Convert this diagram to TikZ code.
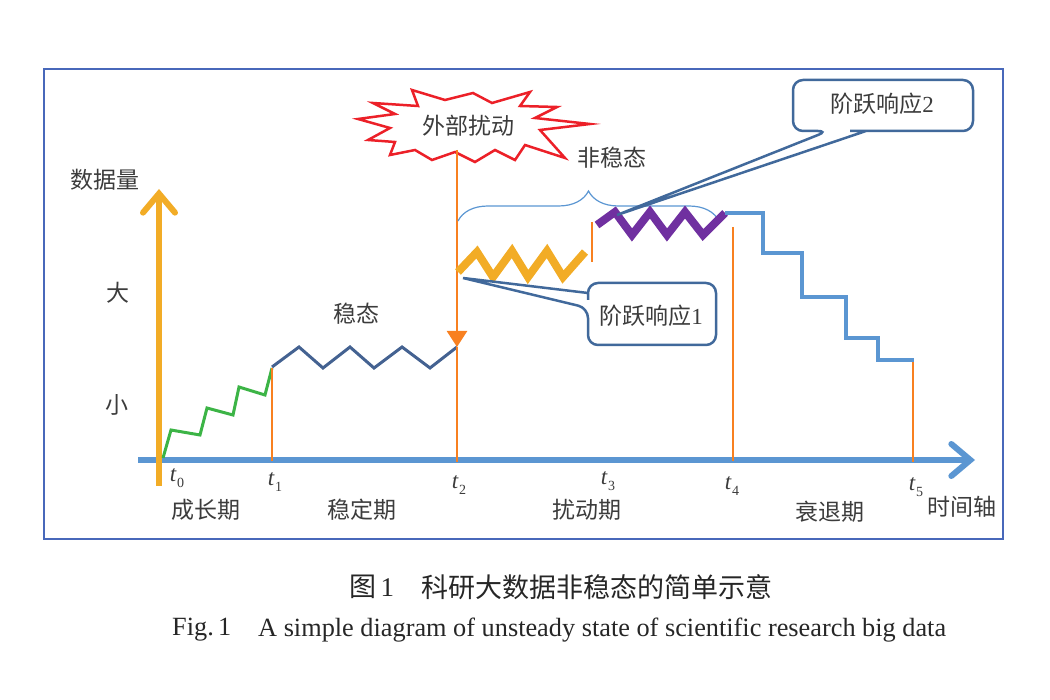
\documentclass[tikz,border=0pt]{standalone}
\usepackage{fontspec}
\setmainfont{Liberation Serif}
\newfontfamily\cjk{Noto Sans CJK SC}
\usetikzlibrary{arrows.meta,decorations.pathreplacing}
\definecolor{frameblue}{RGB}{72,104,186}
\definecolor{axisblue}{RGB}{91,150,210}
\definecolor{amber}{RGB}{242,172,38}
\definecolor{orangeline}{RGB}{248,128,32}
\definecolor{greenline}{RGB}{60,180,70}
\definecolor{darkblueline}{RGB}{68,98,145}
\definecolor{purpleline}{RGB}{112,48,160}
\definecolor{calloutblue}{RGB}{65,105,155}
\definecolor{boomred}{RGB}{236,32,40}
\definecolor{txtgray}{RGB}{60,60,60}
\newcommand\tsub[1]{\textit{t}\kern0.5pt\raisebox{-0.5ex}{\fontsize{14}{14}\selectfont #1}}
\tikzset{
  lbl/.style={font=\cjk\fontsize{23}{26}\selectfont, text=txtgray, inner sep=0pt},
  tlbl/.style={font=\fontsize{23}{25}\selectfont, text=txtgray, inner sep=0pt},
  captext/.style={font=\fontsize{27}{30}\selectfont, text=black!85, inner sep=0pt},
  ecaptext/.style={font=\fontsize{26.3}{29}\selectfont, text=black!85, inner sep=0pt},
  vline/.style={draw=orangeline, line width=2.5pt},
  zig/.style={line width=3pt, line join=miter},
  thickzig/.style={line width=8pt, line join=miter},
  callout/.style={draw=calloutblue, line width=2.5pt, fill=white},
}
\begin{document}
\begin{tikzpicture}[x=1pt,y=-1pt]
\useasboundingbox (0,0) rectangle (1050,700);
% frame
\draw[frameblue, line width=1.5pt] (44,69) rectangle (1003,539);

% axes
\coordinate (xs) at (138,460);
\coordinate (xe) at (975,460);
\coordinate (ys) at (159,486);
\coordinate (ye) at (159,189);
\draw[axisblue, line width=6pt, -{Straight Barb[length=19pt,width=32pt,line cap=round]}] (xs) -- (xe);
\draw[amber, line width=6pt, -{Straight Barb[length=19pt,width=32pt,line cap=round]}] (ys) -- (ye);

% axis labels
\node[lbl] (ylab) at (105,180) {数据量};
\node[lbl] (big) at (118,293) {大};
\node[lbl] (small) at (117,405) {小};
\node[lbl] (tx) at (962,507) {时间轴};
\node[lbl] (p1) at (206,510) {成长期};
\node[lbl] (p2) at (362,510) {稳定期};
\node[lbl] (p3) at (587,510) {扰动期};
\node[lbl] (p4) at (830,512) {衰退期};
\node[lbl] (wt) at (356,314) {稳态};
\node[lbl] (nw) at (612,158) {非稳态};

\node[tlbl] (t0) at (177,478) {\tsub{0}};
\node[tlbl] (t1) at (275,482) {\tsub{1}};
\node[tlbl] (t2) at (459,485) {\tsub{2}};
\node[tlbl] (t3) at (608,481) {\tsub{3}};
\node[tlbl] (t4) at (732,486) {\tsub{4}};
\node[tlbl] (t5) at (916,487) {\tsub{5}};

% growth staircase
\draw[greenline, zig] (163,458) -- (171,430) -- (200,435) -- (207,408) -- (233,415) -- (239,387) -- (265,395) -- (272,368);
% steady zigzag
\draw[darkblueline, zig] (272,367) -- (299,347) -- (323,368) -- (350,347) -- (374,368) -- (402,347) -- (430,368) -- (457,347);

% explosion
\draw[boomred, line width=2.5pt, fill=white, line join=miter]
  (358,119) -- (395,114) -- (373,103) -- (418,106) -- (412,90) -- (445,100) -- (473,93) -- (492,103)
  -- (530,92) -- (520,106) -- (557,107) -- (535,118) -- (590,124) -- (540,130) -- (565,158) -- (525,145)
  -- (515,160) -- (495,150) -- (475,162) -- (455,152) -- (432,160) -- (415,150) -- (390,155) -- (395,142)
  -- (368,140) -- (390,128) -- cycle;
\node[lbl] (boom) at (468,126) {外部扰动};
\coordinate (boomfoot) at (457,150);
\coordinate (t2tip) at (457,347);
\coordinate (t2base) at (457,462);

% orange time lines
\draw[vline] (272,368) -- (272,461);
\draw[vline, -{Triangle[length=16pt,width=20pt]}] (boomfoot) -- (t2tip);
\draw[vline] (t2tip) -- (t2base);
\draw[vline] (592,222) -- (592,262);
\draw[vline] (733,227) -- (733,461);
\draw[vline] (913,360) -- (913,462);

% brace
\draw[axisblue, line width=1.2pt, decorate, decoration={brace, amplitude=30pt}] (458,221) -- (719,221);

% step response zigzags
\draw[amber, thickzig] (458,272) -- (477,252) -- (493,277) -- (512,251) -- (528,277) -- (547,251) -- (563,277) -- (585,252);
\draw[purpleline, thickzig] (597,225) -- (615,212) -- (632,235) -- (650,212) -- (667,235) -- (685,212) -- (703,235) -- (725,213);

% decline staircase
\draw[axisblue, line width=3.5pt] (725,213) -- (763,213) -- (763,253) -- (802,253) -- (802,297) -- (846,297) -- (846,338) -- (878,338) -- (878,360) -- (914,360);

% callouts
\coordinate (c1tip) at (463,278);
\coordinate (c2tip) at (617,215);
\draw[callout] (588,300) [rounded corners=10pt] -- (588,283) -- (716,283) -- (716,345) -- (588,345) -- (588,308) [sharp corners] -- (c1tip) -- (588,293) -- cycle;
\node[lbl] (cl1) at (651,316) {阶跃响应{\fontspec{Liberation Serif}1}};
\draw[callout] (850,131) [rounded corners=10pt] -- (973,131) -- (973,80) -- (793,80) -- (793,131) -- (828,131) [sharp corners] -- (c2tip) -- (866,131) -- cycle;
\node[lbl] (cl2) at (882,104) {阶跃响应{\fontspec{Liberation Serif}2}};

% caption
\node[captext, anchor=west] (cap1a) at (349,587) {{\cjk 图}\,1};
\node[captext, anchor=west] (cap1b) at (421,587) {\cjk 科研大数据非稳态的简单示意};
\node[ecaptext, anchor=west] (cap2a) at (172,630) {Fig.\,1};
\node[ecaptext, anchor=west] (cap2b) at (258,630) {A simple diagram of unsteady state of scientific research big data};
\end{tikzpicture}
\end{document}
